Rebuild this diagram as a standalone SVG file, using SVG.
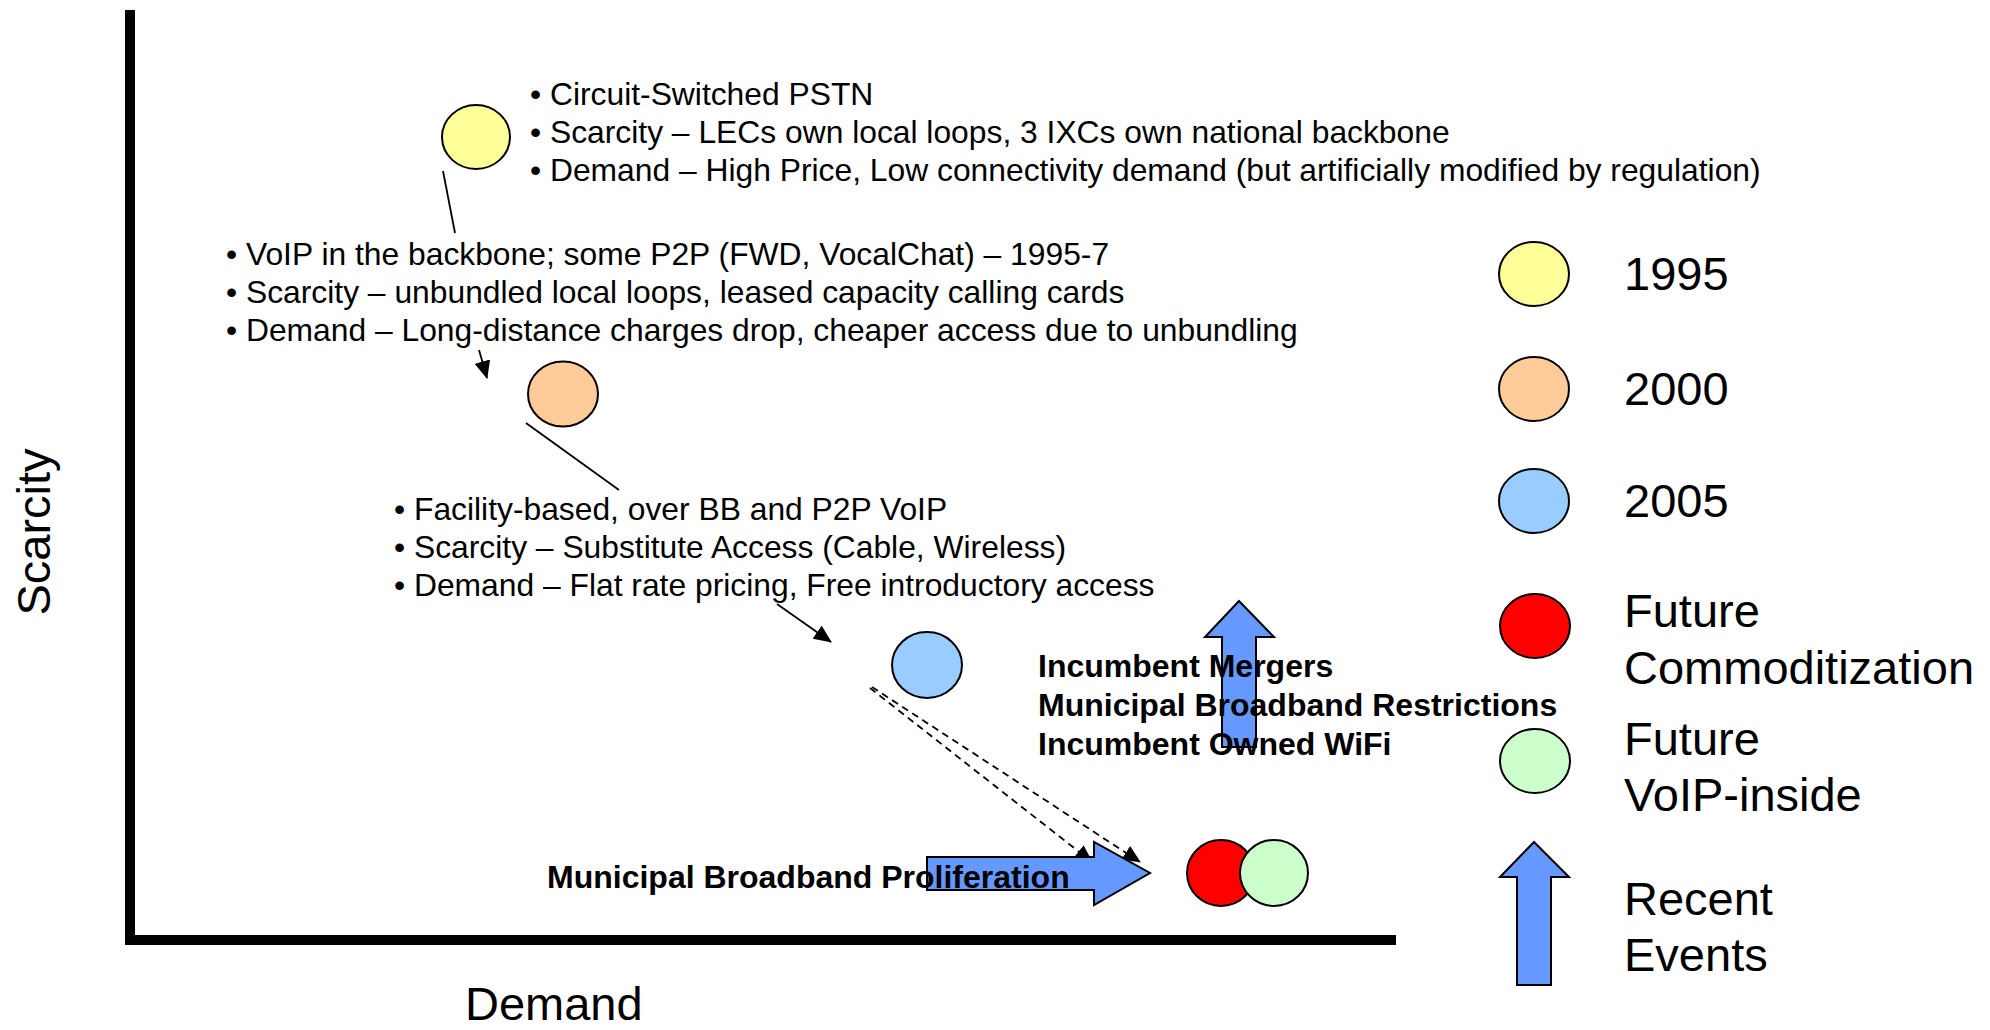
<svg xmlns="http://www.w3.org/2000/svg" width="1990" height="1030" viewBox="0 0 1990 1030">
<style>
text{font-family:"Liberation Sans",Arial,sans-serif;fill:#000}
.b{font-size:31.8px}
.bb{font-size:32px;font-weight:bold}
.lg{font-size:47px}
.el{stroke:#000;stroke-width:2}
.ln{stroke:#000;stroke-width:1.8;fill:none}
.ds{stroke:#000;stroke-width:1.8;fill:none;stroke-dasharray:7 5}
.ba{fill:#6699FF;stroke:#000;stroke-width:2;stroke-linejoin:miter}
</style>
<defs>
<marker id="ah" markerUnits="userSpaceOnUse" markerWidth="18" markerHeight="16" viewBox="0 0 18 16" refX="17" refY="8" orient="auto">
<path d="M0,0 L18,8 L0,16 z" fill="#000"/>
</marker>
</defs>
<rect width="1990" height="1030" fill="#fff"/>
<g id="axes">
<rect x="125" y="10" width="10" height="935" fill="#000"/>
<rect x="125" y="935" width="1271" height="10" fill="#000"/>
<text class="lg" x="465" y="1020">Demand</text>
<text class="lg" transform="translate(50,532) rotate(-90)" text-anchor="middle">Scarcity</text>
</g>
<g id="connectors">
<line class="ln" x1="443" y1="171" x2="455" y2="233"/>
<line class="ln" x1="479" y1="350" x2="487" y2="378" marker-end="url(#ah)"/>
<line class="ln" x1="526" y1="423" x2="619" y2="490"/>
<line class="ln" x1="777" y1="604" x2="831" y2="642" marker-end="url(#ah)"/>
<line class="ds" x1="870" y1="688" x2="1092" y2="862" marker-end="url(#ah)"/>
<line class="ds" x1="872" y1="687" x2="1140" y2="862" marker-end="url(#ah)"/>
</g>
<g id="node-1995">
<ellipse class="el" cx="476" cy="137" rx="34" ry="32" fill="#FFFF99"/>
</g>
<g id="text-1995">
<text class="b" x="530" y="105">• Circuit-Switched PSTN</text>
<text class="b" x="530" y="143">• Scarcity – LECs own local loops, 3 IXCs own national backbone</text>
<text class="b" x="530" y="181">• Demand – High Price, Low connectivity demand (but artificially modified by regulation)</text>
</g>
<g id="text-2000">
<text class="b" x="226" y="265">• VoIP in the backbone; some P2P (FWD, VocalChat) – 1995-7</text>
<text class="b" x="226" y="303">• Scarcity – unbundled local loops, leased capacity calling cards</text>
<text class="b" x="226" y="341">• Demand – Long-distance charges drop, cheaper access due to unbundling</text>
</g>
<g id="node-2000">
<ellipse class="el" cx="563" cy="394" rx="35" ry="32.5" fill="#FFCC99"/>
</g>
<g id="text-2005">
<text class="b" x="394" y="520">• Facility-based, over BB and P2P VoIP</text>
<text class="b" x="394" y="558">• Scarcity – Substitute Access (Cable, Wireless)</text>
<text class="b" x="394" y="596">• Demand – Flat rate pricing, Free introductory access</text>
</g>
<g id="node-2005">
<ellipse class="el" cx="927" cy="665" rx="35" ry="33" fill="#99CCFF"/>
</g>
<g id="event-up">
<polygon class="ba" points="1239,601 1274,637 1256,637 1256,747 1222,747 1222,637 1205,637"/>
</g>
<g id="event-right">
<polygon class="ba" points="927,857 1094,857 1094,842 1150,873 1094,905 1094,890 927,890"/>
</g>
<g id="node-future">
<ellipse class="el" cx="1221" cy="873" rx="34" ry="33" fill="#FF0000"/>
<ellipse class="el" cx="1274" cy="873" rx="34" ry="33" fill="#CCFFCC"/>
</g>
<g id="event-labels">
<text class="bb" x="1038" y="677">Incumbent Mergers</text>
<text class="bb" x="1038" y="716">Municipal Broadband Restrictions</text>
<text class="bb" x="1038" y="755">Incumbent Owned WiFi</text>
<text class="bb" x="547" y="888">Municipal Broadband Proliferation</text>
</g>
<g id="legend-1995">
<ellipse class="el" cx="1534" cy="274" rx="35" ry="32" fill="#FFFF99"/>
<text class="lg" x="1624" y="290">1995</text>
</g>
<g id="legend-2000">
<ellipse class="el" cx="1534" cy="389" rx="35" ry="32" fill="#FFCC99"/>
<text class="lg" x="1624" y="405">2000</text>
</g>
<g id="legend-2005">
<ellipse class="el" cx="1534" cy="501" rx="35" ry="32" fill="#99CCFF"/>
<text class="lg" x="1624" y="517">2005</text>
</g>
<g id="legend-commod">
<ellipse class="el" cx="1535" cy="626" rx="35" ry="32" fill="#FF0000"/>
<text class="lg" x="1624" y="627">Future</text>
<text class="lg" x="1624" y="684">Commoditization</text>
</g>
<g id="legend-voip">
<ellipse class="el" cx="1535" cy="761" rx="35" ry="32" fill="#CCFFCC"/>
<text class="lg" x="1624" y="755">Future</text>
<text class="lg" x="1624" y="811">VoIP-inside</text>
</g>
<g id="legend-events">
<polygon class="ba" points="1534,842 1569,877 1551,877 1551,985 1517,985 1517,877 1500,877"/>
<text class="lg" x="1624" y="915">Recent</text>
<text class="lg" x="1624" y="971">Events</text>
</g>
</svg>
